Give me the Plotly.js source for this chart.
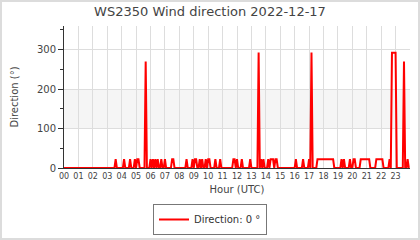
<!DOCTYPE html>
<html>
<head>
<meta charset="utf-8">
<script src="https://cdn.plot.ly/plotly-3.0.1.min.js"></script>
<style>
  html, body { margin: 0; padding: 0; background: #fff; }
  #wrap { position: relative; width: 420px; height: 240px; }
  #chart { width: 420px; height: 240px; }
  #frame { position: absolute; left: 0; top: 0; width: 420px; height: 240px; box-sizing: border-box; border: 2px solid #dcdcdc; pointer-events: none; }
</style>
</head>
<body>
<div id="wrap"><div id="chart"></div><div id="frame"></div></div>
<script>
// Wind direction (degrees), one value every 5 minutes, one row per hour
const direction = [
  0,0,0,0,0,0,0,0,0,0,0,0,                                  // 00
  0,0,0,0,0,0,0,0,0,0,0,0,                                  // 01
  0,0,0,0,0,0,0,0,0,0,0,0,                                  // 02
  0,0,0,0,0,0,0,22.5,0,0,0,0,                               // 03
  0,0,22.5,0,0,0,0,22.5,0,0,0,22.5,                         // 04
  0,22.5,22.5,0,0,0,0,0,270,0,0,0,                          // 05
  22.5,0,22.5,0,22.5,0,22.5,0,0,22.5,0,0,                   // 06
  22.5,0,0,0,0,0,22.5,22.5,0,0,0,0,                         // 07
  0,0,0,0,0,0,22.5,0,0,0,0,22.5,                            // 08
  0,22.5,22.5,0,0,22.5,0,22.5,0,0,22.5,0,                   // 09
  22.5,22.5,0,0,0,0,22.5,0,0,0,22.5,0,                      // 10
  0,0,0,0,0,0,0,0,0,22.5,22.5,0,                            // 11
  22.5,0,0,0,22.5,0,0,0,0,0,0,22.5,                         // 12
  0,0,0,0,0,0,292.5,0,22.5,0,22.5,0,                        // 13
  0,0,22.5,0,22.5,22.5,22.5,0,22.5,22.5,0,0,                // 14
  0,0,0,0,0,0,0,0,0,0,0,0,                                  // 15
  0,22.5,0,0,0,0,0,22.5,0,0,0,0,                            // 16
  22.5,0,292.5,0,0,0,0,22.5,22.5,22.5,22.5,22.5,            // 17
  22.5,22.5,22.5,22.5,22.5,22.5,22.5,22.5,22.5,0,0,0,       // 18
  0,0,0,22.5,0,22.5,0,0,0,0,22.5,0,                         // 19
  0,22.5,22.5,0,0,0,0,22.5,22.5,22.5,22.5,22.5,             // 20
  22.5,22.5,22.5,0,0,0,0,0,22.5,22.5,22.5,22.5,             // 21
  22.5,22.5,0,0,0,0,0,22.5,0,292.5,292.5,292.5,             // 22
  292.5,0,0,0,0,0,0,270,0,0,22.5,0                          // 23
];
const hourTicks = [0,1,2,3,4,5,6,7,8,9,10,11,12,13,14,15,16,17,18,19,20,21,22,23,24];
const hourLabels = ["00","01","02","03","04","05","06","07","08","09","10","11",
                    "12","13","14","15","16","17","18","19","20","21","22","23",""];
const dirTicks = [0,100,200,300];
const titleText = "WS2350 Wind direction 2022-12-17";
const seriesName = "Direction: 0 °";

const font = "DejaVu Sans, sans-serif";

const trace = {
  type: "scatter",
  mode: "lines",
  name: seriesName,
  y: direction,
  x0: 0,
  dx: 5/60,
  line: { color: "#ff0000", width: 2 },
  hoverinfo: "skip"
};

const layout = {
  width: 420,
  height: 240,
  margin: { l: 64, r: 10, t: 26, b: 72, pad: 0 },
  paper_bgcolor: "#ffffff",
  plot_bgcolor: "#ffffff",
  font: { family: font, size: 10, color: "#444" },
  title: {
    text: titleText,
    font: { family: font, size: 13, color: "#444" },
    x: 0.5, xref: "container", xanchor: "center",
    y: 1 - 11/240, yref: "container", yanchor: "middle"
  },
  showlegend: true,
  legend: {
    x: 0.5, xref: "container", xanchor: "center",
    y: 1 - 204/240, yref: "container", yanchor: "top",
    orientation: "h",
    bordercolor: "#777", borderwidth: 1,
    font: { family: font, size: 10, color: "#333" }
  },
  xaxis: {
    range: [0, 24],
    tickvals: hourTicks,
    ticktext: hourLabels,
    ticks: "",
    showgrid: true,
    gridcolor: "#dddddd",
    gridwidth: 1,
    zeroline: false,
    showline: true,
    linecolor: "#333",
    linewidth: 1,
    tickfont: { family: font, size: 8, color: "#444" },
    title: { text: "Hour (UTC)", font: { family: font, size: 10, color: "#444" }, standoff: 6 },
    fixedrange: true
  },
  yaxis: {
    range: [0, 360],
    tickvals: dirTicks,
    ticks: "outside",
    ticklen: 5,
    tickcolor: "#333",
    showgrid: true,
    gridcolor: "#dddddd",
    zeroline: false,
    showline: true,
    linecolor: "#333",
    linewidth: 1,
    tickfont: { family: font, size: 10, color: "#444" },
    minor: { dtick: 50, tick0: 50, ticks: "outside", ticklen: 3, tickcolor: "#333", showgrid: false },
    title: { text: "Direction (°)", font: { family: font, size: 10, color: "#444" }, standoff: 16 },
    fixedrange: true
  },
  shapes: [
    { type: "rect", xref: "paper", yref: "y", x0: 0, x1: 1, y0: 100, y1: 200,
      fillcolor: "#f5f5f5", line: { width: 0 }, layer: "below" }
  ]
};

Plotly.newPlot("chart", [trace], layout, { staticPlot: true, displayModeBar: false });
</script>
</body>
</html>
